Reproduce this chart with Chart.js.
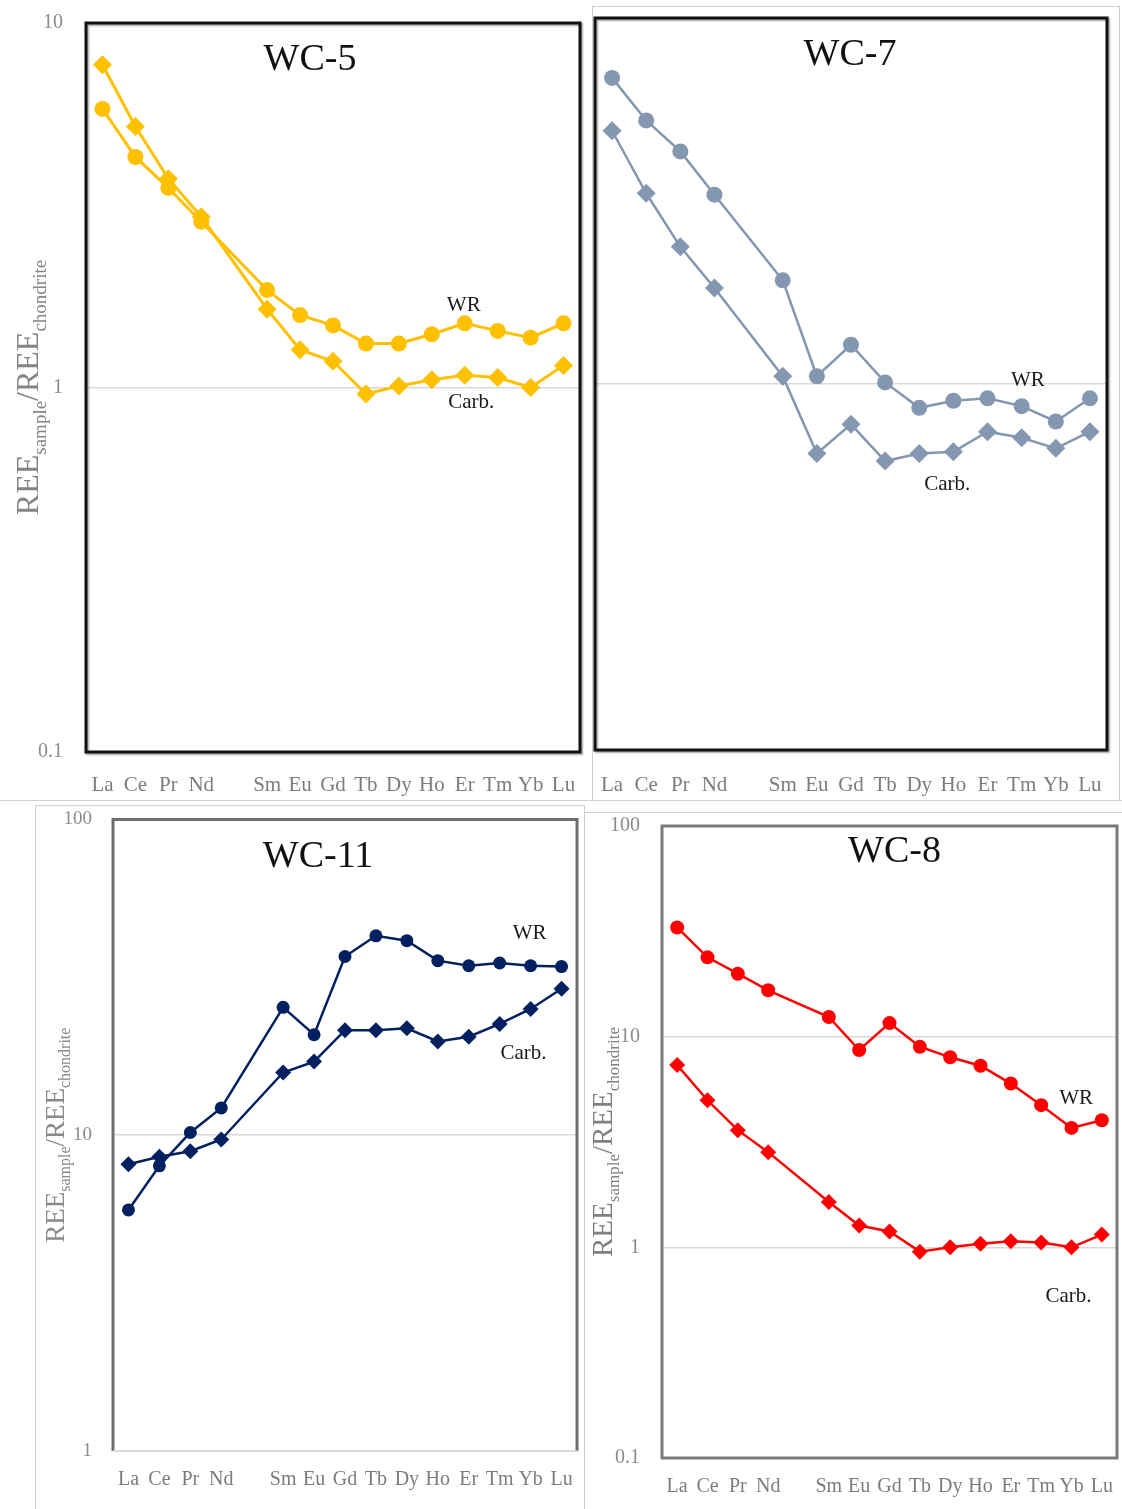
<!DOCTYPE html>
<html>
<head>
<meta charset="utf-8">
<title>REE patterns WC-5, WC-7, WC-11, WC-8</title>
<script src="https://cdn.jsdelivr.net/npm/chart.js@4.4.1/dist/chart.umd.min.js"></script>
<style>
  html, body { margin: 0; padding: 0; background: #fff; }
  body { width: 1122px; height: 1509px; position: relative; overflow: hidden; }
  canvas { position: absolute; }
  .rule { position: absolute; background: #cfcfcf; }
</style>
</head>
<body>
<!-- thin panel separators -->
<div class="rule" style="left:0;top:800px;width:1122px;height:1px"></div>
<div class="rule" style="left:592px;top:6px;width:1px;height:794px"></div>
<div class="rule" style="left:592px;top:6px;width:528px;height:1px"></div>
<div class="rule" style="left:1119px;top:6px;width:1px;height:794px"></div>
<div class="rule" style="left:35px;top:805px;width:550px;height:1px"></div>
<div class="rule" style="left:35px;top:805px;width:1px;height:704px"></div>
<div class="rule" style="left:584px;top:805px;width:1px;height:704px"></div>
<div class="rule" style="left:584px;top:812px;width:538px;height:1px"></div>

<canvas id="wc5"></canvas>
<canvas id="wc7"></canvas>
<canvas id="wc11"></canvas>
<canvas id="wc8"></canvas>

<script>
// Rare earth elements in chondrite-normalised order (Pm has no analysis)
const ELEMENTS = ['La','Ce','Pr','Nd','Pm','Sm','Eu','Gd','Tb','Dy','Ho','Er','Tm','Yb','Lu'];
const UNLABELLED = ['Pm'];

// REE(sample)/REE(chondrite): whole rock (WR) and carbonate fraction (Carb.)
const WC5_WR    = [5.81, 4.29, 3.53, 2.85, null, 1.85, 1.58, 1.48, 1.32, 1.32, 1.40, 1.50, 1.43, 1.37, 1.50];
const WC5_CARB  = [7.68, 5.20, 3.74, 2.94, null, 1.64, 1.27, 1.18, 0.96, 1.01, 1.05, 1.08, 1.065, 1.00, 1.15];

const WC7_WR    = [6.86, 5.25, 4.32, 3.29, null, 1.92, 1.05, 1.28, 1.01, 0.861, 0.90, 0.914, 0.87, 0.79, 0.914];
const WC7_CARB  = [4.92, 3.32, 2.37, 1.83, null, 1.05, 0.646, 0.776, 0.616, 0.646, 0.653, 0.741, 0.713, 0.667, 0.741];

const WC11_WR   = [5.80, 8.0, 10.2, 12.2, null, 25.4, 20.8, 36.8, 42.8, 41.3, 35.7, 34.4, 35.1, 34.4, 34.2];
const WC11_CARB = [8.09, 8.55, 8.90, 9.69, null, 15.8, 17.1, 21.5, 21.5, 21.8, 19.8, 20.5, 22.5, 25.1, 29.1];

const WC8_WR    = [33.0, 23.8, 19.9, 16.6, null, 12.4, 8.64, 11.6, 8.96, 7.98, 7.28, 5.99, 4.73, 3.69, 4.01];
const WC8_CARB  = [7.33, 4.99, 3.60, 2.83, null, 1.64, 1.27, 1.19, 0.954, 1.00, 1.04, 1.07, 1.055, 1.00, 1.15];

// Decade tick values for each y axis
const TICKS_0_1_TO_10 = [0.1, 1, 10];
const TICKS_1_TO_100  = [1, 10, 100];
const TICKS_0_1_TO_100 = [0.1, 1, 10, 100];

const SERIF = '"Liberation Serif", "Times New Roman", serif';

const PANELS = [
  {
    canvas: 'wc5', title: 'WC-5', color: '#FFC000',
    wr: WC5_WR, carb: WC5_CARB, ticks: TICKS_0_1_TO_10,
    plot: { l: 86, t: 18, r: 580, b: 752 }, axisW: 86,
    showY: true, yTickSize: 20, xTickSize: 21, xTickGap: 21, yTickPad: 23,
    frame: { color: '#111', width: 3, shadow: true },
    lineW: 3, circleR: 8, diamondR: 9.5,
    titleDx: -23, titleDy: 37,
    yTitle: { size: 32, dx: -48, color: '#858585' },
    notes: [ { text: 'WR', idx: 10.97, val: 1.68 }, { text: 'Carb.', idx: 11.2, val: 0.91 } ]
  },
  {
    canvas: 'wc7', title: 'WC-7', color: '#8497B0',
    wr: WC7_WR, carb: WC7_CARB, ticks: TICKS_0_1_TO_10,
    plot: { l: 595, t: 18, r: 1107, b: 750 }, axisW: 12,
    showY: false, yTickSize: 20, xTickSize: 21, xTickGap: 23, yTickPad: 23,
    frame: { color: '#111', width: 3, shadow: true },
    lineW: 2.5, circleR: 8, diamondR: 9.5,
    titleDx: -1, titleDy: 37,
    yTitle: null,
    notes: [ { text: 'WR', idx: 12.18, val: 1.025 }, { text: 'Carb.', idx: 9.82, val: 0.53 } ]
  },
  {
    canvas: 'wc11', title: 'WC-11', color: '#002060',
    wr: WC11_WR, carb: WC11_CARB, ticks: TICKS_1_TO_100,
    plot: { l: 113, t: 817, r: 577, b: 1451 }, axisW: 90,
    showY: true, yTickSize: 19, xTickSize: 20, xTickGap: 17, yTickPad: 21,
    frame: { color: '#6e6e6e', width: 3, bottomColor: '#d9d9d9' },
    lineW: 2.5, circleR: 6.5, diamondR: 8,
    titleDx: -27, titleDy: 38,
    yTitle: { size: 27, dx: -49, color: '#8a8a8a' },
    notes: [ { text: 'WR', idx: 12.97, val: 43.4 }, { text: 'Carb.', idx: 12.77, val: 18.2 } ]
  },
  {
    canvas: 'wc8', title: 'WC-8', color: '#FF0000',
    wr: WC8_WR, carb: WC8_CARB, ticks: TICKS_0_1_TO_100,
    plot: { l: 662, t: 822, r: 1117, b: 1458 }, axisW: 80,
    showY: true, yTickSize: 20, xTickSize: 20, xTickGap: 17, yTickPad: 22,
    frame: { color: '#7a7a7a', width: 3 },
    lineW: 2.5, circleR: 7, diamondR: 8,
    titleDx: 5, titleDy: 26,
    yTitle: { size: 29, dx: -50, color: '#808080' },
    notes: [ { text: 'WR', idx: 13.15, val: 5.08 }, { text: 'Carb.', idx: 12.9, val: 0.583 } ]
  }
];

// Frame, title, y-axis title and series notes drawn on top of the Chart.js layout
const panelDecor = {
  id: 'panelDecor',
  beforeDatasetsDraw(chart, args, o) {
    const p = o.panel, a = chart.chartArea, ctx = chart.ctx, f = p.frame;
    ctx.save();
    if (f.shadow) {
      ctx.shadowColor = 'rgba(0,0,0,0.35)';
      ctx.shadowOffsetX = 1.5; ctx.shadowOffsetY = 1.5; ctx.shadowBlur = 2;
    }
    ctx.strokeStyle = f.color; ctx.lineWidth = f.width; ctx.lineJoin = 'miter';
    ctx.beginPath();
    if (f.bottomColor) {
      ctx.moveTo(a.left, a.bottom); ctx.lineTo(a.left, a.top);
      ctx.lineTo(a.right, a.top); ctx.lineTo(a.right, a.bottom);
      ctx.stroke();
      ctx.beginPath();
      ctx.strokeStyle = f.bottomColor; ctx.lineWidth = 2;
      ctx.moveTo(a.left, a.bottom); ctx.lineTo(a.right, a.bottom);
      ctx.stroke();
    } else {
      ctx.rect(a.left, a.top, a.right - a.left, a.bottom - a.top);
      ctx.stroke();
    }
    ctx.restore();
  },
  afterDraw(chart, args, o) {
    const p = o.panel, a = chart.chartArea, ctx = chart.ctx;
    const xs = chart.scales.x, ys = chart.scales.y;
    ctx.save();
    // sample name
    ctx.fillStyle = '#111';
    ctx.font = `38px ${SERIF}`;
    ctx.textAlign = 'center'; ctx.textBaseline = 'middle';
    ctx.fillText(p.title, (a.left + a.right) / 2 + p.titleDx, a.top + p.titleDy);
    // WR / Carb. notes
    ctx.font = `21px ${SERIF}`;
    ctx.fillStyle = '#1a1a1a';
    p.notes.forEach(n => {
      ctx.fillText(n.text, xs.getPixelForValue(n.idx), ys.getPixelForValue(n.val));
    });
    // rotated y title with subscripts
    if (p.yTitle) {
      const t = p.yTitle, subSize = Math.round(t.size * 0.6);
      const parts = [['REE', false], ['sample', true], ['/REE', false], ['chondrite', true]];
      const fontOf = s => s ? `${subSize}px ${SERIF}` : `${t.size}px ${SERIF}`;
      let total = 0;
      const widths = parts.map(([txt, s]) => { ctx.font = fontOf(s); const w = ctx.measureText(txt).width; total += w; return w; });
      ctx.translate(a.left + t.dx, (a.top + a.bottom) / 2);
      ctx.rotate(-Math.PI / 2);
      ctx.textAlign = 'left'; ctx.textBaseline = 'alphabetic';
      ctx.fillStyle = t.color;
      let x = -total / 2;
      parts.forEach(([txt, s], i) => {
        ctx.font = fontOf(s);
        ctx.fillText(txt, x, s ? t.size * 0.24 : 0);
        x += widths[i];
      });
    }
    ctx.restore();
  }
};

function buildPanel(p) {
  const cv = document.getElementById(p.canvas);
  const padTop = 30, padRight = 14, axisH = 55;
  const plotW = p.plot.r - p.plot.l, plotH = p.plot.b - p.plot.t;
  const left = p.plot.l - p.axisW, top = p.plot.t - padTop;
  const width = p.axisW + plotW + padRight;
  const height = padTop + plotH + axisH;
  cv.width = width; cv.height = height;
  cv.style.left = left + 'px'; cv.style.top = top + 'px';
  cv.style.width = width + 'px'; cv.style.height = height + 'px';

  const series = (label, values, style, r) => ({
    label, data: values, borderColor: p.color, backgroundColor: p.color,
    borderWidth: p.lineW, pointStyle: style, pointRadius: r, pointHoverRadius: r,
    pointBorderWidth: 0, pointBackgroundColor: p.color, tension: 0, spanGaps: true
  });

  return new Chart(cv, {
    type: 'line',
    data: {
      labels: ELEMENTS,
      datasets: [
        series('WR', p.wr, 'circle', p.circleR),
        series('Carb.', p.carb, 'rectRot', p.diamondR)
      ]
    },
    options: {
      responsive: false, animation: false, devicePixelRatio: 1,
      layout: { padding: { top: padTop, right: padRight, left: 0, bottom: 0 } },
      plugins: {
        legend: { display: false }, tooltip: { enabled: false }, title: { display: false },
        panelDecor: { panel: p }
      },
      scales: {
        x: {
          type: 'category', offset: true,
          // invisible tick marks give the label gap without widening the side padding
          grid: { display: false, drawTicks: true, tickLength: p.xTickGap }, border: { display: false },
          ticks: {
            autoSkip: false, maxRotation: 0, minRotation: 0, padding: 0,
            color: '#7c7c7c', font: { family: SERIF, size: p.xTickSize },
            callback: (v, i) => UNLABELLED.includes(ELEMENTS[i]) ? '' : ELEMENTS[i]
          },
          afterFit: s => { s.height = axisH; }
        },
        y: {
          type: 'logarithmic',
          min: p.ticks[0], max: p.ticks[p.ticks.length - 1],
          grid: { color: '#d9d9d9', lineWidth: 1.5, drawTicks: false },
          border: { display: false },
          ticks: {
            display: p.showY, padding: p.yTickPad, color: '#8a8a8a',
            font: { family: SERIF, size: p.yTickSize },
            callback: v => String(v)
          },
          afterBuildTicks: s => { s.ticks = p.ticks.map(v => ({ value: v })); },
          afterFit: s => { s.width = p.axisW; }
        }
      }
    },
    plugins: [panelDecor]
  });
}

PANELS.forEach(buildPanel);
</script>
</body>
</html>
